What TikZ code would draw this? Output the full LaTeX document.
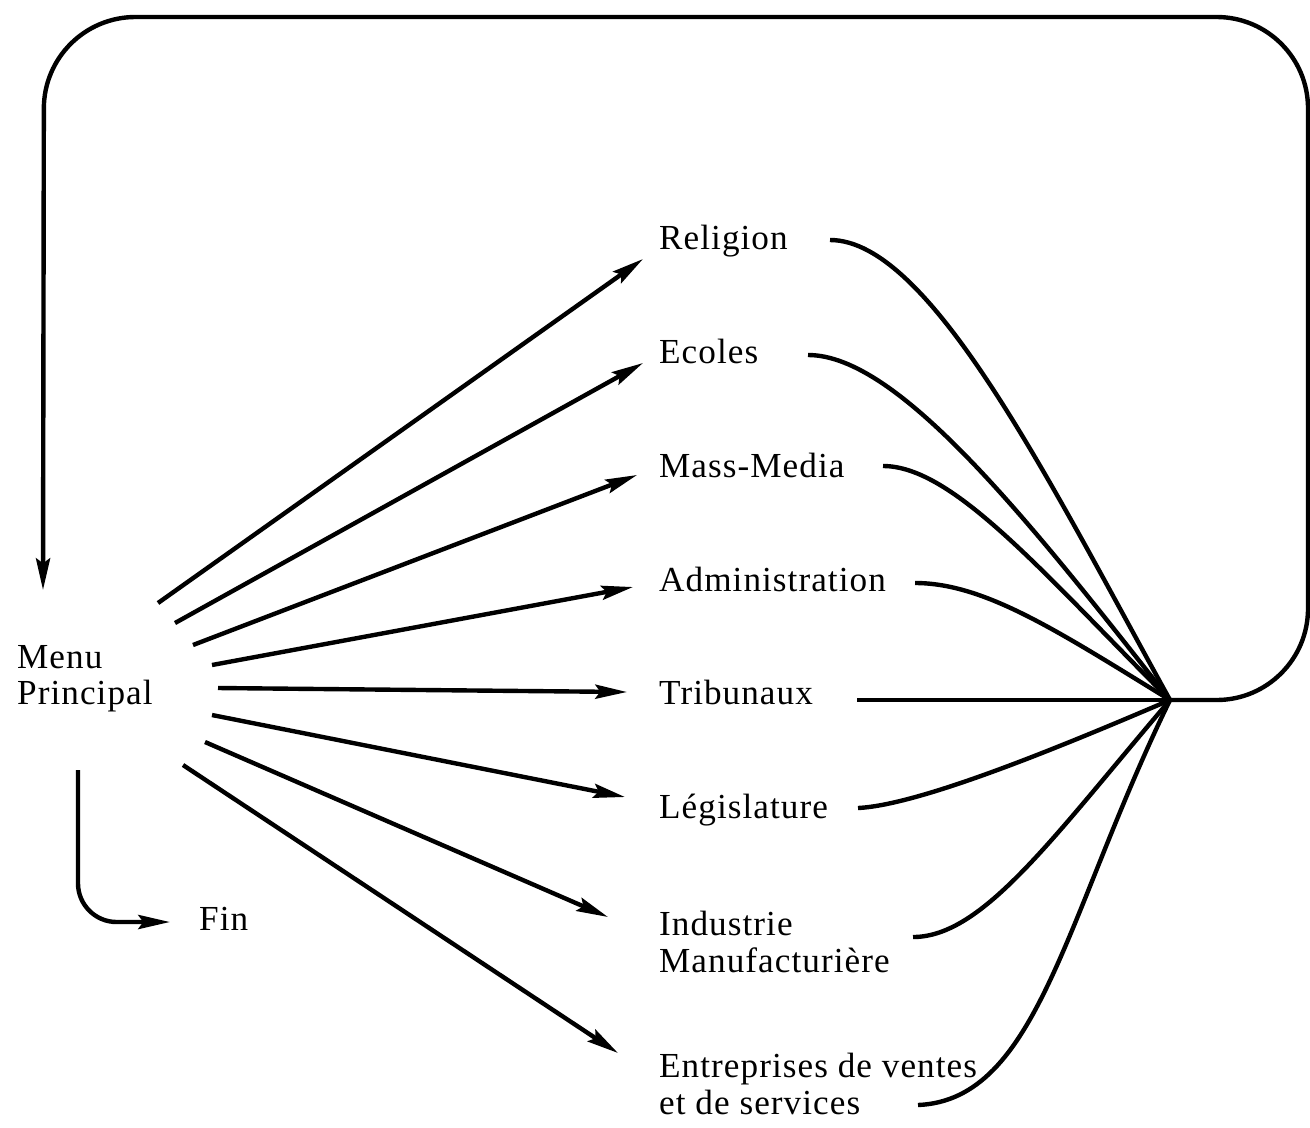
\documentclass[tikz,border=0pt]{standalone}
\usepackage{fontspec}
\setmainfont{Liberation Serif}[LetterSpace=3]
\usetikzlibrary{positioning,arrows.meta,calc}

\begin{document}
\begin{tikzpicture}[
  x=0.01cm, y=-0.01cm,
  >={Stealth[length=9pt, width=4pt, inset=1.4pt]},
  line width=1.25pt,
  font=\fontsize{10}{10.4}\selectfont,
  lbl/.style={inner sep=0pt, anchor=base west},
  lbl2/.style={inner sep=0pt, anchor=north west, align=left}
]
\useasboundingbox (0,0) rectangle (1310,1127);

% menu and exits
\node[lbl2] (menu) at (15,643) {Menu\\Principal};
\node[lbl] (fin) at (197,930) {Fin};

\node[lbl] (rel) at (657,249) {Religion};
\node[lbl] (eco) at (657,363) {Ecoles};
\node[lbl] (mass) at (657,477) {Mass-Media};
\node[lbl] (adm) at (657,591) {Administration};
\node[lbl] (trib) at (657,704) {Tribunaux};
\node[lbl] (leg) at (657,818) {Législature};
\node[lbl2] (ind) at (657,909) {Industrie\\Manufacturière};
\node[lbl2] (ent) at (657,1051) {Entreprises de ventes\\et de services};

\coordinate (hub) at (1170,700);

% fan out of the menu
\draw[->] ($(menu.north west)+(143,-40)$) -- ($(rel.base west)+(-14,10)$);
\draw[->] ($(menu.north west)+(160,-20)$) -- ($(eco.base west)+(-14,0)$);
\draw[->] ($(menu.north west)+(178,2)$) -- ($(mass.base west)+(-20,-2)$);
\draw[->] ($(menu.north west)+(197,22)$) -- ($(adm.base west)+(-24,-4)$);
\draw[->] ($(menu.north west)+(203,45)$) -- ($(trib.base west)+(-30,-12)$);
\draw[->] ($(menu.north west)+(197,72)$) -- ($(leg.base west)+(-32,-21)$);
\draw[->] ($(menu.north west)+(190,99)$) -- ($(ind.north west)+(-49,8)$);
\draw[->] ($(menu.north west)+(168,122)$) -- ($(ent.north west)+(-39,2)$);
\draw[->, rounded corners=11pt] ($(menu.north west)+(63,127)$) |- ($(fin.base west)+(-27,-8)$);

% back into the hub
\draw ($(rel.base west)+(173,-9)$) .. controls +(100,0) and +(-121,-219) .. (hub);
\draw ($(eco.base west)+(151,-8)$) .. controls +(90,0) and +(-142,-181) .. (hub);
\draw ($(mass.base west)+(226,-11)$) .. controls +(70,0) and +(-127,-127) .. (hub);
\draw ($(adm.base west)+(258,-8)$) .. controls +(70,0) and +(-111,-68) .. (hub);
\draw ($(trib.base west)+(200,-4)$) -- (hub);
\draw ($(leg.base west)+(201,-10)$) .. controls +(60,-3) and +(-119,51) .. (hub);
\draw ($(ind.north west)+(256,28)$) .. controls +(70,0) and +(-117,137) .. (hub);
\draw ($(ent.north west)+(261,54)$) .. controls +(120,-5) and +(-105,215) .. (hub);

% loop back to the menu
\draw[->, rounded corners=26pt] (hub) -- (1308,700) -- (1308,17) -- (44,17) -- (43,590);

\end{tikzpicture}
\end{document}
